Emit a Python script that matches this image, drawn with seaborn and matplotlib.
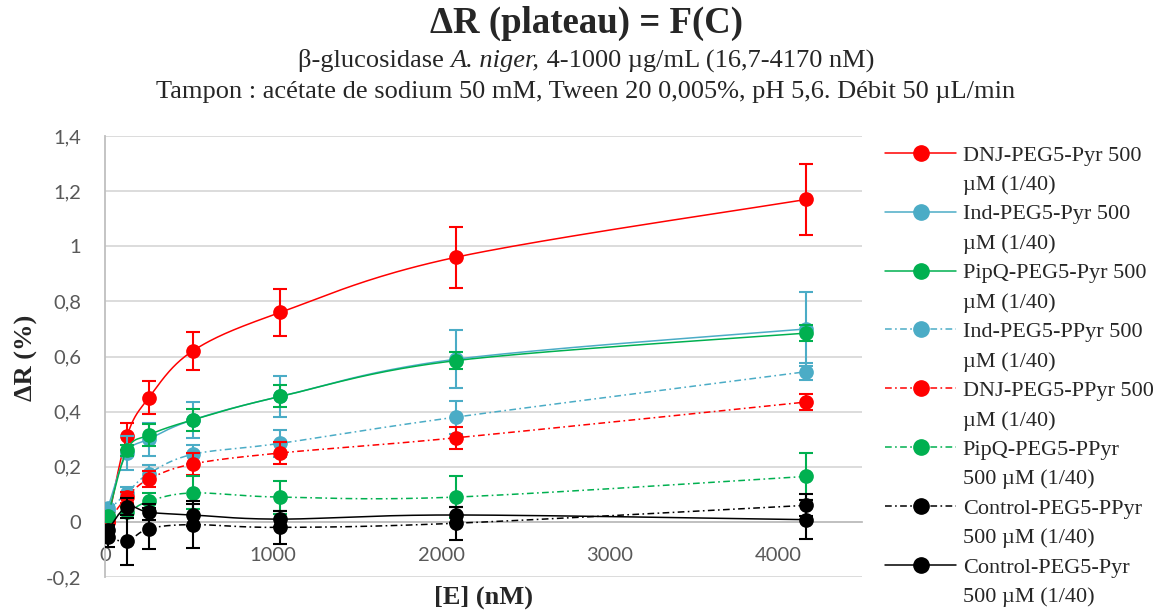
import numpy as np
import pandas as pd
import matplotlib
matplotlib.use("Agg")
import matplotlib.pyplot as plt
import seaborn as sns
from matplotlib.lines import Line2D

# ---------------- data ----------------
conc_nM = [16.7, 130, 260, 521, 1042, 2085, 4170]

series_labels = [
    "DNJ-PEG5-Pyr 500\nµM (1/40)",
    "Ind-PEG5-Pyr 500\nµM (1/40)",
    "PipQ-PEG5-Pyr 500\nµM (1/40)",
    "Ind-PEG5-PPyr 500\nµM (1/40)",
    "DNJ-PEG5-PPyr 500\nµM (1/40)",
    "PipQ-PEG5-PPyr\n500 µM (1/40)",
    "Control-PEG5-PPyr\n500 µM (1/40)",
    "Control-PEG5-Pyr\n500 µM (1/40)",
]

dnj_pyr = [0.00, 0.31, 0.45, 0.62, 0.76, 0.96, 1.17]
dnj_pyr_err = [0.01, 0.05, 0.06, 0.07, 0.085, 0.11, 0.13]
ind_pyr = [0.05, 0.25, 0.30, 0.37, 0.455, 0.59, 0.70]
ind_pyr_err = [0.01, 0.06, 0.06, 0.065, 0.075, 0.105, 0.135]
pipq_pyr = [0.02, 0.26, 0.315, 0.37, 0.455, 0.585, 0.685]
pipq_pyr_err = [0.01, 0.02, 0.04, 0.04, 0.04, 0.03, 0.03]
ind_ppyr = [0.04, 0.105, 0.175, 0.245, 0.285, 0.38, 0.545]
ind_ppyr_err = [0.01, 0.02, 0.03, 0.035, 0.05, 0.06, 0.03]
dnj_ppyr = [0.00, 0.09, 0.155, 0.21, 0.25, 0.305, 0.435]
dnj_ppyr_err = [0.01, 0.02, 0.03, 0.04, 0.04, 0.04, 0.03]
pipq_ppyr = [0.02, 0.035, 0.075, 0.105, 0.09, 0.09, 0.165]
pipq_ppyr_err = [0.01, 0.02, 0.03, 0.06, 0.06, 0.075, 0.085]
ctrl_ppyr = [-0.055, -0.07, -0.025, -0.01, -0.02, -0.005, 0.06]
ctrl_ppyr_err = [0.035, 0.085, 0.075, 0.085, 0.06, 0.06, 0.04]
ctrl_pyr = [-0.03, 0.055, 0.035, 0.025, 0.01, 0.025, 0.008]
ctrl_pyr_err = [0.02, 0.03, 0.03, 0.04, 0.03, 0.03, 0.07]

values = [dnj_pyr, ind_pyr, pipq_pyr, ind_ppyr, dnj_ppyr, pipq_ppyr, ctrl_ppyr, ctrl_pyr]
errors = [dnj_pyr_err, ind_pyr_err, pipq_pyr_err, ind_ppyr_err, dnj_ppyr_err,
          pipq_ppyr_err, ctrl_ppyr_err, ctrl_pyr_err]

RED, BLUE, GREEN, BLACK = "#FF0000", "#4BACC6", "#00B050", "#000000"
colors = [RED, BLUE, GREEN, BLUE, RED, GREEN, BLACK, BLACK]
DASHDOT = (0, (4.4, 2.2, 1.1, 2.2))
styles = ["-", "-", "-", DASHDOT, DASHDOT, DASHDOT, DASHDOT, "-"]

x_ticks = [0, 1000, 2000, 3000, 4000]
y_ticks = [-0.2, 0, 0.2, 0.4, 0.6, 0.8, 1.0, 1.2, 1.4]
y_ticklabels = ["-0,2", "0", "0,2", "0,4", "0,6", "0,8", "1", "1,2", "1,4"]
XMAX = 4500
YMIN, YMAX = -0.2, 1.4

# ---------------- style ----------------
sns.set_theme(style="white")
plt.rcParams["font.family"] = ["Liberation Serif", "DejaVu Serif"]

W, H = 1172, 610
fig = plt.figure(figsize=(W / 100, H / 100), dpi=100)
ax_l, ax_r, ax_t, ax_b = 105, 862, 136, 577
ax = fig.add_axes([ax_l / W, 1 - ax_b / H, (ax_r - ax_l) / W, (ax_b - ax_t) / H])
ax.set_xlim(0, XMAX)
ax.set_ylim(YMIN, YMAX)

# Excel-like smoothed curve (Bezier through points, in display-normalised space)
px_w, px_h = ax_r - ax_l, ax_b - ax_t
xr, yr = XMAX / px_w, (YMAX - YMIN) / px_h


def excel_smooth(x, y, n=40):
    P = np.column_stack([np.asarray(x) / xr, np.asarray(y) / yr])
    E = np.vstack([P[0], P, P[-1]])
    out = []
    t = np.linspace(0, 1, n)[:, None]
    for i in range(len(P) - 1):
        p0, p1, p2, p3 = E[i], E[i + 1], E[i + 2], E[i + 3]
        c1 = p1 + (p2 - p0) / 6
        c2 = p2 - (p3 - p1) / 6
        seg = (1 - t) ** 3 * p1 + 3 * (1 - t) ** 2 * t * c1 + 3 * (1 - t) * t ** 2 * c2 + t ** 3 * p2
        out.append(seg if i == 0 else seg[1:])
    S = np.vstack(out)
    return S[:, 0] * xr, S[:, 1] * yr


for i, (vals, errs, col, ls) in enumerate(zip(values, errors, colors, styles)):
    sx, sy = excel_smooth(conc_nM, vals)
    z = 3 + i
    sns.lineplot(x=sx, y=sy, ax=ax, color=col, linestyle=ls, linewidth=1.1,
                 sort=False, estimator=None, zorder=z)
    ax.errorbar(conc_nM, vals, yerr=errs, fmt="none", ecolor=col, elinewidth=1.5,
                capsize=4.8, capthick=1.5, zorder=z)
    sns.scatterplot(x=conc_nM, y=vals, ax=ax, color=col, s=112, edgecolor=col,
                    linewidth=0, zorder=z + 0.5, legend=False)

# axes styling
ax.set_yticks(y_ticks)
ax.set_yticklabels(y_ticklabels)
ax.set_xticks(x_ticks)
ax.set_xticklabels([str(v) for v in x_ticks])
ax.grid(axis="y", color="#D9D9D9", linewidth=1.3, zorder=0)
ax.grid(axis="x", visible=False)
for s in ["top", "right"]:
    ax.spines[s].set_visible(False)
ax.spines["left"].set_color("#BFBFBF")
ax.spines["left"].set_linewidth(1.3)
ax.spines["bottom"].set_position(("data", 0))
ax.spines["bottom"].set_color("#BFBFBF")
ax.spines["bottom"].set_linewidth(1.3)
ax.tick_params(axis="both", length=0, labelsize=14.5, labelcolor="#595959")
ax.tick_params(axis="y", pad=17)
ax.tick_params(axis="x", pad=18)
for lab in ax.get_xticklabels() + ax.get_yticklabels():
    lab.set_fontfamily(["Lato", "DejaVu Sans"])
ax.set_xlabel("")
ax.set_ylabel("")

# axis titles
fig.text((ax_l + ax_r) / 2 / W, 1 - 597 / H, "[E] (nM)", ha="center", va="center",
         fontsize=19, fontweight="bold")
fig.text(26 / W, 1 - 358 / H, "ΔR (%)", ha="center", va="center", rotation=90,
         fontsize=19, fontweight="bold")

# chart titles
fig.text(0.5, 1 - 23 / H, "ΔR (plateau) = F(C)", ha="center", va="center",
         fontsize=26.5, fontweight="bold")
fig.text(0.5, 1 - 92 / H, "Tampon : acétate de sodium 50 mM, Tween 20 0,005%, pH 5,6. Débit 50 µL/min",
         ha="center", va="center", fontsize=19)

# subtitle line with italic part, centred as a whole
parts = [("β-glucosidase ", "normal"), ("A. niger,", "italic"), (" 4-1000 µg/mL (16,7-4170 nM)", "normal")]
fig.canvas.draw()
renderer = fig.canvas.get_renderer()
tmp = []
for txt, st in parts:
    t = fig.text(0, 1 - 61 / H, txt, fontsize=19, fontstyle=st, va="center", ha="left")
    tmp.append(t)
widths = [t.get_window_extent(renderer).width for t in tmp]
total = sum(widths)
x0 = (W - total) / 2
for t, w in zip(tmp, widths):
    t.set_x(x0 / W)
    x0 += w

# legend: each entry split into two rows so the symbol sits on the first line
handles, labels = [], []
for lab, col, ls in zip(series_labels, colors, styles):
    l1, l2 = lab.split("\n")
    handles.append(Line2D([], [], color=col, linestyle=ls, linewidth=1.1,
                          marker="o", markersize=11, markerfacecolor=col, markeredgecolor=col))
    labels.append(l1)
    handles.append(Line2D([], [], linestyle="none", marker=None))
    labels.append(l2)
fig.legend(handles, labels, loc="upper left", bbox_to_anchor=(885 / W, 1 - 145 / H),
           frameon=False, fontsize=16, handlelength=3.2, handletextpad=0.3,
           labelspacing=0.40, borderaxespad=0, borderpad=0)

fig.savefig("out.png", dpi=100)
